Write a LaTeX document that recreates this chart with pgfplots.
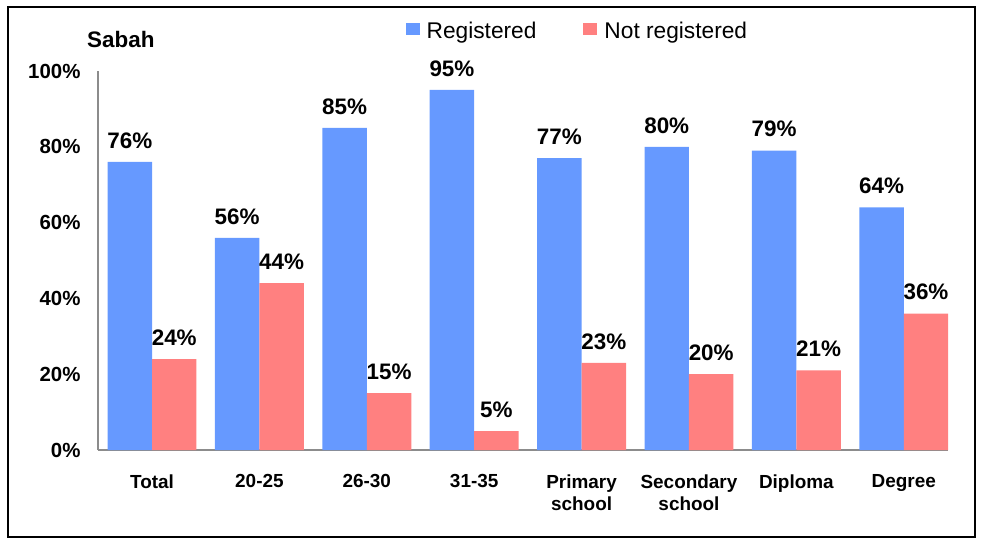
\documentclass[border=0pt]{standalone}
\usepackage{pgfplots}
\pgfplotsset{compat=1.18}
\usepackage{fontspec}
\setmainfont{Liberation Sans}
\definecolor{regblue}{RGB}{102,153,255}
\definecolor{notred}{RGB}{255,128,128}
\begin{document}
\begin{tikzpicture}
\useasboundingbox (0bp,0bp) rectangle (981bp,538bp);
\draw[line width=1.5bp] (8bp,1bp) rectangle (975bp,531bp);
\node[anchor=west, font=\fontsize{22.5}{26}\selectfont\bfseries, inner sep=0] at (87bp,499bp) {Sabah};
\begin{axis}[
  at={(98bp,88bp)}, anchor=south west,
  scale only axis, width=850bp, height=379bp,
  xmin=-0.503, xmax=7.412, ymin=0, ymax=100,
  ybar, bar width=0.414,
  axis x line*=bottom, axis y line*=left,
  axis line style={draw=gray!90, line width=1.3bp, -},
  major tick length=0,
  xtick={0,...,7},
  xticklabels={Total,20-25,26-30,31-35,Primary\\school,Secondary\\school,Diploma,Degree},
  xticklabel style={align=center, font=\fontsize{19}{22}\selectfont\bfseries, yshift=-21bp},
  ytick={0,20,40,60,80,100},
  yticklabels={0\%,20\%,40\%,60\%,80\%,100\%},
  yticklabel style={font=\fontsize{20.5}{24}\selectfont\bfseries, xshift=-14bp},
  nodes near coords={\pgfmathprintnumber[assume math mode=true]{\pgfplotspointmeta}\%},
  nodes near coords style={font=\fontsize{22.5}{26}\selectfont\bfseries, yshift=10bp},
  legend columns=2,
  legend style={draw=none, at={(0.564,1.105)}, anchor=center, font=\fontsize{22.8}{26}\selectfont, /tikz/every even column/.append style={column sep=45bp}},
  legend image code/.code={\fill[#1] (0bp,-4bp) rectangle (14bp,8bp); \path (19bp,0bp);},
  clip=false,
]
\addplot[fill=regblue, draw=none, bar shift=-0.207] coordinates {(0,76)(1,56)(2,85)(3,95)(4,77)(5,80)(6,79)(7,64)};
\addplot[fill=notred, draw=none, bar shift=0.207] coordinates {(0,24)(1,44)(2,15)(3,5)(4,23)(5,20)(6,21)(7,36)};
\legend{Registered, Not registered}
\end{axis}
\end{tikzpicture}
\end{document}
